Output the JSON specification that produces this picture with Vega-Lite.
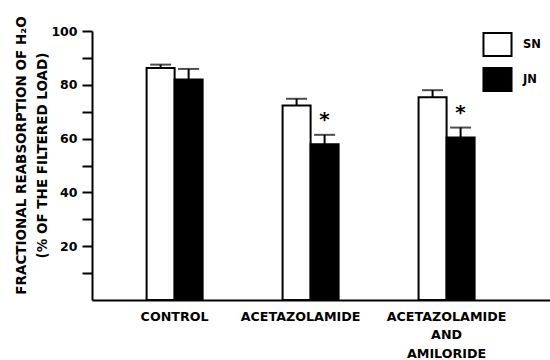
{
  "$schema": "https://vega.github.io/schema/vega-lite/v6.json",
  "width": 458,
  "height": 269,
  "autosize": {"type": "none"},
  "padding": {"left": 92, "top": 31, "right": 0, "bottom": 60},
  "background": "white",
  "config": {"view": {"stroke": null}, "font": "DejaVu Sans"},
  "data": {
    "values": [
      {"group": "CONTROL", "series": "SN", "mean": 86.2, "upper": 87.5, "sig": ""},
      {"group": "CONTROL", "series": "JN", "mean": 82.0, "upper": 85.9, "sig": ""},
      {"group": "ACETAZOLAMIDE", "series": "SN", "mean": 72.3, "upper": 74.8, "sig": ""},
      {"group": "ACETAZOLAMIDE", "series": "JN", "mean": 57.9, "upper": 61.4, "sig": "*"},
      {"group": "ACETAZOLAMIDE\nAND\nAMILORIDE", "series": "SN", "mean": 75.4, "upper": 78.0, "sig": ""},
      {"group": "ACETAZOLAMIDE\nAND\nAMILORIDE", "series": "JN", "mean": 60.4, "upper": 64.1, "sig": "*"}
    ]
  },
  "encoding": {
    "x": {
      "field": "group",
      "type": "nominal",
      "sort": null,
      "scale": {"paddingInner": 0.588, "paddingOuter": 0.478, "align": 0.42},
      "axis": {
        "title": null,
        "labelAngle": 0,
        "labelExpr": "split(datum.label, '\\n')",
        "ticks": false,
        "domainWidth": 2,
        "domainColor": "black",
        "labelFont": "DejaVu Sans",
        "labelFontWeight": "bold",
        "labelFontSize": 12.7,
        "labelColor": "black",
        "labelPadding": 10,
        "labelLineHeight": 18.5,
        "labelBaseline": "top",
        "labelOffset": {"condition": {"test": "datum.value === 'ACETAZOLAMIDE'", "value": -10}, "value": 0}
      }
    },
    "xOffset": {
      "field": "series",
      "type": "nominal",
      "sort": ["SN", "JN"],
      "scale": {"paddingInner": 0, "paddingOuter": 0}
    },
    "y": {
      "type": "quantitative",
      "scale": {"domain": [0, 100]},
      "axis": {
        "title": ["FRACTIONAL REABSORPTION OF H₂O", "(% OF THE FILTERED LOAD)"],
        "values": [10, 20, 30, 40, 50, 60, 70, 80, 90, 100],
        "labelOverlap": false,
        "labelOpacity": {"condition": {"test": "datum.value % 20 === 0", "value": 1}, "value": 0},
        "grid": false,
        "tickSize": 10,
        "tickWidth": 2,
        "tickColor": "black",
        "domainWidth": 2,
        "domainColor": "black",
        "labelFont": "DejaVu Sans",
        "labelFontWeight": "bold",
        "labelFontSize": 12.5,
        "labelColor": "black",
        "labelPadding": 5,
        "titleFont": "DejaVu Sans",
        "titleFontWeight": "bold",
        "titleFontSize": 13.5,
        "titleColor": "black",
        "titleLineHeight": 21,
        "titleAngle": -90,
        "titleAlign": "center",
        "titleBaseline": "middle",
        "titleX": -71,
        "titleY": 124
      }
    }
  },
  "layer": [
    {
      "mark": {"type": "bar", "stroke": "black", "strokeWidth": 2},
      "encoding": {
        "y": {"field": "mean"},
        "fill": {
          "field": "series",
          "type": "nominal",
          "sort": ["SN", "JN"],
          "scale": {"domain": ["SN", "JN"], "range": ["white", "black"]},
          "legend": {
            "title": null,
            "orient": "none",
            "legendX": 393,
            "legendY": 1,
            "padding": 0,
            "symbolType": "M-1.22,-1H1.22V1H-1.22Z",
            "symbolSize": 529,
            "symbolStrokeColor": "black",
            "symbolStrokeWidth": 2,
            "labelFont": "DejaVu Sans",
            "labelFontWeight": "bold",
            "labelFontSize": 11.5,
            "labelColor": "black",
            "labelOffset": 13,
            "rowPadding": 4
          }
        }
      }
    },
    {
      "mark": {"type": "rule", "strokeWidth": 2, "color": "black"},
      "encoding": {
        "y": {"field": "mean"},
        "y2": {"field": "upper"}
      }
    },
    {
      "mark": {"type": "tick", "thickness": 2, "size": 21, "color": "black"},
      "encoding": {
        "y": {"field": "upper"}
      }
    },
    {
      "mark": {"type": "text", "font": "DejaVu Sans", "fontWeight": "bold", "fontSize": 20, "dy": -9, "baseline": "alphabetic", "color": "black"},
      "encoding": {
        "y": {"field": "upper"},
        "text": {"field": "sig"}
      }
    }
  ]
}
